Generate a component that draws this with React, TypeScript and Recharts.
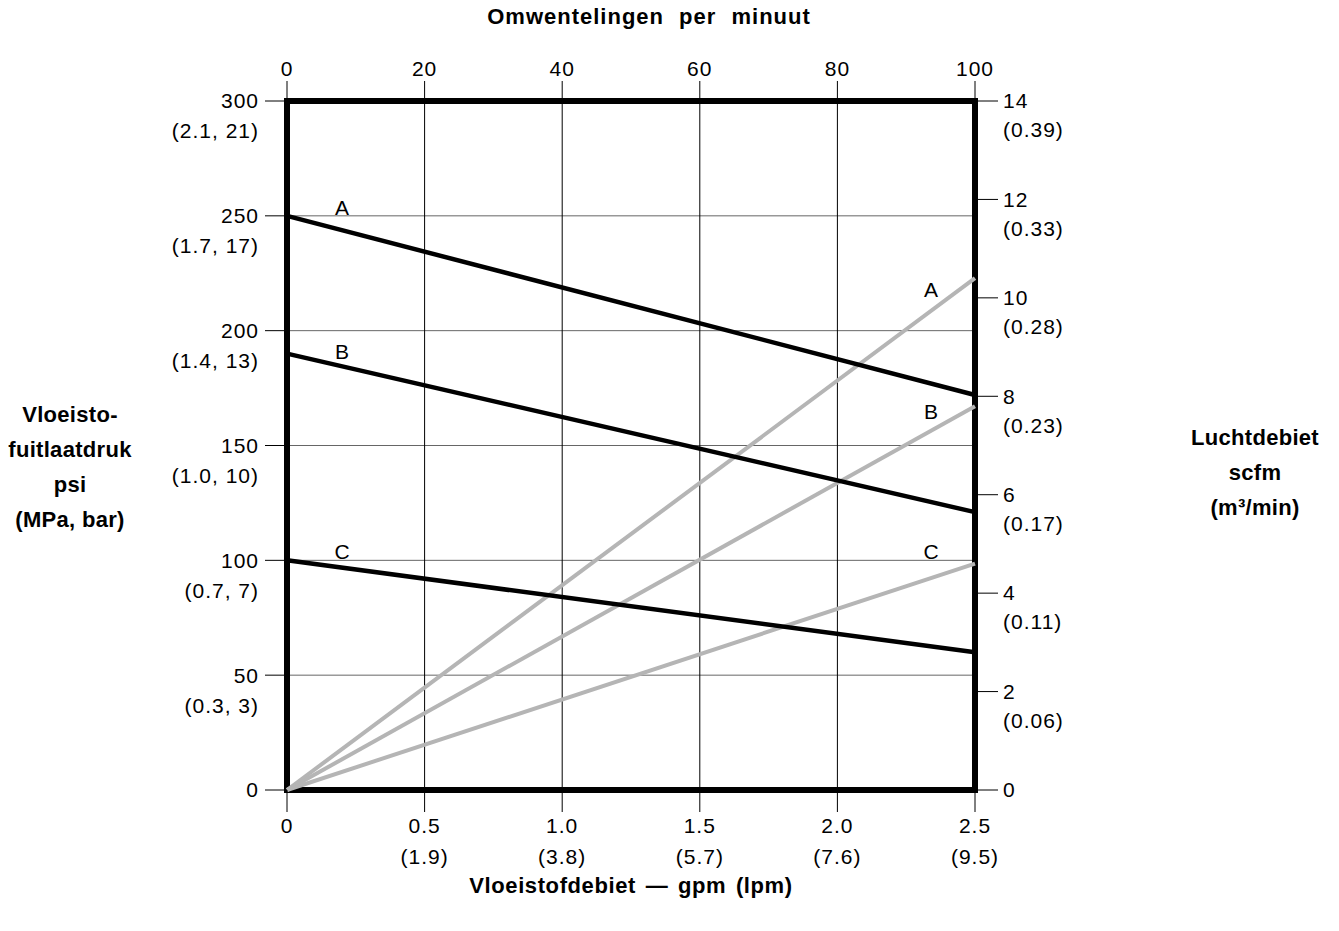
import {
  ComposedChart,
  Line,
  XAxis,
  YAxis,
  CartesianGrid,
  ReferenceArea,
  ReferenceDot,
} from 'recharts'

// liquid flow, gpm (bottom axis) with lpm in brackets
const gpmTicks = [0, 0.5, 1, 1.5, 2, 2.5]
const lpmLabels = ['', '(1.9)', '(3.8)', '(5.7)', '(7.6)', '(9.5)']
// liquid outlet pressure, psi (left axis) with MPa, bar in brackets
const psiTicks = [0, 50, 100, 150, 200, 250, 300]
const mpaBarLabels = ['', '(0.3, 3)', '(0.7, 7)', '(1.0, 10)', '(1.4, 13)', '(1.7, 17)', '(2.1, 21)']
// air flow, scfm (right axis) with m3/min in brackets
const scfmTicks = [0, 2, 4, 6, 8, 10, 12, 14]
const m3Labels = ['', '(0.06)', '(0.11)', '(0.17)', '(0.23)', '(0.28)', '(0.33)', '(0.39)']
// cycles per minute (top axis)
const rpmTicks = [0, 20, 40, 60, 80, 100]

// series: end points at 0 and 2.5 gpm (0 and 100 cycles/min)
const flow = [0, 2.5]
const cycles = [0, 100]
const pressureA = [250, 172]
const pressureB = [190, 121]
const pressureC = [100, 60]
const airA = [0, 10.4]
const airB = [0, 7.8]
const airC = [0, 4.6]

const data = flow.map((gpm, i) => ({
  gpm,
  rpm: cycles[i],
  pA: pressureA[i],
  pB: pressureB[i],
  pC: pressureC[i],
  aA: airA[i],
  aB: airB[i],
  aC: airC[i],
}))

const FONT = '"Liberation Sans", Arial, sans-serif'
const GRAY = '#b5b5b5'
const tickText = { fontFamily: FONT, fontSize: 21, letterSpacing: 1, fill: '#000' }

function LeftTick({ x, y, payload, index }: any) {
  const sub = mpaBarLabels[index]
  return (
    <g {...tickText}>
      <text x={x} y={y} dy="0.35em" textAnchor="end">{payload.value}</text>
      {sub && <text x={x} y={y + 30} dy="0.35em" textAnchor="end">{sub}</text>}
    </g>
  )
}

function RightTick({ x, y, payload, index }: any) {
  const sub = m3Labels[index]
  return (
    <g {...tickText}>
      <text x={x} y={y} dy="0.35em" textAnchor="start">{payload.value}</text>
      {sub && <text x={x} y={y + 29} dy="0.35em" textAnchor="start">{sub}</text>}
    </g>
  )
}

function BottomTick({ x, y, payload, index }: any) {
  const sub = lpmLabels[index]
  return (
    <g {...tickText}>
      <text x={x} y={y} dy="0.71em" textAnchor="middle">{payload.value.toFixed(index === 0 ? 0 : 1)}</text>
      {sub && <text x={x} y={y + 31} dy="0.71em" textAnchor="middle">{sub}</text>}
    </g>
  )
}

function TopTick({ x, y, payload }: any) {
  return (
    <text x={x} y={y} textAnchor="middle" {...tickText}>
      {payload.value}
    </text>
  )
}

const letterLabel = (value: string) => ({
  value,
  position: 'center' as const,
  fontFamily: FONT,
  fontSize: 21,
  fill: '#000',
})

const titleStyle = {
  position: 'absolute' as const,
  textAlign: 'center' as const,
  fontWeight: 'bold' as const,
  fontSize: 22,
}

export default function App() {
  return (
    <div style={{ position: 'relative', width: 1323, height: 915, fontFamily: FONT }}>
      <div style={{ ...titleStyle, left: 18, width: 1246, top: -4, letterSpacing: 1, wordSpacing: 8 }}>
        Omwentelingen per minuut
      </div>
      <div style={{ ...titleStyle, left: 0, width: 1246, top: 865, letterSpacing: 0.6, wordSpacing: 3 }}>
        Vloeistofdebiet — gpm (lpm)
      </div>
      <div style={{ ...titleStyle, left: -10, width: 144, top: 389, lineHeight: '35px', letterSpacing: 0.3 }}>
        Vloeisto-<br />fuitlaatdruk<br />psi<br />(MPa, bar)
      </div>
      <div style={{ ...titleStyle, left: 1175, width: 144, top: 412, lineHeight: '35px', letterSpacing: 0.3 }}>
        Luchtdebiet<br />scfm<br />(m³/min)
      </div>
      <ComposedChart
        width={1323}
        height={915}
        data={data}
        margin={{ top: 53, right: 276, bottom: 53, left: 199 }}
      >
        <CartesianGrid xAxisId="bottom" yAxisId="psi" vertical={false} stroke="#666" strokeWidth={1} />
        <CartesianGrid xAxisId="bottom" yAxisId="psi" horizontal={false} stroke="#000" strokeWidth={1} />
        <XAxis
          xAxisId="bottom"
          dataKey="gpm"
          type="number"
          domain={[0, 2.5]}
          ticks={gpmTicks}
          orientation="bottom"
          height={80}
          axisLine={false}
          tickLine={{ stroke: '#000' }}
          tickSize={22}
          tickMargin={6}
          tick={<BottomTick />}
          interval={0}
        />
        <XAxis
          xAxisId="top"
          dataKey="rpm"
          type="number"
          domain={[0, 100]}
          ticks={rpmTicks}
          orientation="top"
          height={40}
          axisLine={false}
          tickLine={{ stroke: '#000' }}
          tickSize={20}
          tickMargin={5}
          tick={<TopTick />}
          interval={0}
        />
        <YAxis
          yAxisId="psi"
          type="number"
          domain={[0, 300]}
          ticks={psiTicks}
          orientation="left"
          width={80}
          axisLine={false}
          tickLine={{ stroke: '#000' }}
          tickSize={22}
          tickMargin={6}
          tick={<LeftTick />}
          interval={0}
        />
        <YAxis
          yAxisId="scfm"
          type="number"
          domain={[0, 14]}
          ticks={scfmTicks}
          orientation="right"
          width={80}
          axisLine={false}
          tickLine={{ stroke: '#000' }}
          tickSize={23}
          tickMargin={5}
          tick={<RightTick />}
          interval={0}
        />
        <Line xAxisId="bottom" yAxisId="scfm" dataKey="aA" stroke={GRAY} strokeWidth={4} dot={false} isAnimationActive={false} />
        <Line xAxisId="bottom" yAxisId="scfm" dataKey="aB" stroke={GRAY} strokeWidth={4} dot={false} isAnimationActive={false} />
        <Line xAxisId="bottom" yAxisId="scfm" dataKey="aC" stroke={GRAY} strokeWidth={4} dot={false} isAnimationActive={false} />
        <Line xAxisId="bottom" yAxisId="psi" dataKey="pA" stroke="#000" strokeWidth={4.5} dot={false} isAnimationActive={false} />
        <Line xAxisId="bottom" yAxisId="psi" dataKey="pB" stroke="#000" strokeWidth={4.5} dot={false} isAnimationActive={false} />
        <Line xAxisId="bottom" yAxisId="psi" dataKey="pC" stroke="#000" strokeWidth={4.5} dot={false} isAnimationActive={false} />
        <ReferenceDot xAxisId="bottom" yAxisId="psi" x={0.2} y={253.5} r={0} fill="none" stroke="none" label={letterLabel('A')} />
        <ReferenceDot xAxisId="bottom" yAxisId="psi" x={0.2} y={191} r={0} fill="none" stroke="none" label={letterLabel('B')} />
        <ReferenceDot xAxisId="bottom" yAxisId="psi" x={0.2} y={104} r={0} fill="none" stroke="none" label={letterLabel('C')} />
        <ReferenceDot xAxisId="bottom" yAxisId="psi" x={2.34} y={218} r={0} fill="none" stroke="none" label={letterLabel('A')} />
        <ReferenceDot xAxisId="bottom" yAxisId="psi" x={2.34} y={165} r={0} fill="none" stroke="none" label={letterLabel('B')} />
        <ReferenceDot xAxisId="bottom" yAxisId="psi" x={2.34} y={104} r={0} fill="none" stroke="none" label={letterLabel('C')} />
        <ReferenceArea
          xAxisId="bottom"
          yAxisId="psi"
          x1={0}
          x2={2.5}
          y1={0}
          y2={300}
          fill="none"
          fillOpacity={0}
          stroke="#000"
          strokeWidth={6}
          strokeOpacity={1}
        />
      </ComposedChart>
    </div>
  )
}
